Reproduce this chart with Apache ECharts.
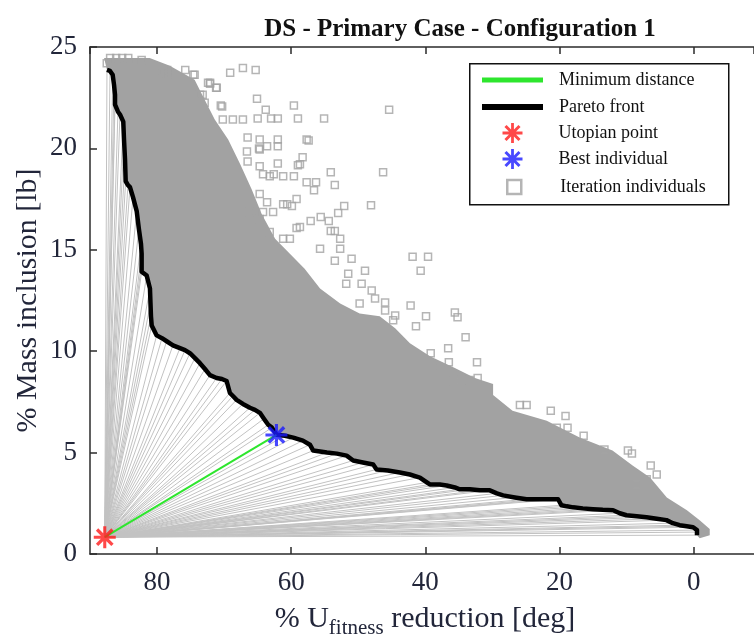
<!DOCTYPE html>
<html>
<head>
<meta charset="utf-8">
<script src="https://cdn.jsdelivr.net/npm/echarts@6/dist/echarts.min.js"></script>
<style>html,body{margin:0;padding:0;background:#fff}#c{width:754px;height:644px}</style>
</head>
<body>
<div id="c"></div>
<script>
// ---- data ----
const xTicks = [80, 60, 40, 20, 0];
const yTicks = [0, 5, 10, 15, 20, 25];
const xRange = [-9, 90];
const utopian = [87.8, 0.83];
const best = [62.2, 5.87];
const paretoX = [87.47, 87.02, 86.62, 86.42, 86.27, 86.27, 85.83, 85.53, 85.04, 84.93, 84.78, 84.68, 84.34, 84.04, 83.59, 83.04, 82.71, 82.40, 82.30, 82.30, 82.30, 81.55, 81.06, 80.98, 80.91, 80.80, 80.06, 79.27, 78.57, 77.63, 76.59, 75.84, 75.10, 74.35, 73.61, 72.86, 72.12, 71.12, 70.33, 69.63, 69.14, 68.69, 68.14, 67.20, 66.16, 65.41, 64.67, 64.07, 63.43, 62.88, 62.18, 60.94, 59.70, 58.26, 57.21, 56.72, 54.68, 53.19, 51.74, 50.76, 49.31, 47.78, 47.27, 45.59, 43.80, 42.31, 40.82, 39.78, 39.33, 37.84, 36.84, 35.60, 34.86, 33.37, 31.88, 30.39, 29.34, 28.41, 26.66, 24.92, 22.94, 21.45, 20.21, 19.70, 18.91, 17.97, 16.53, 15.00, 13.55, 12.01, 11.01, 10.02, 8.48, 7.03, 5.50, 4.05, 3.11, 2.07, 1.03, 0.08, -0.50, -0.50, -0.50];
const paretoY = [23.87, 23.82, 23.63, 23.14, 22.65, 22.16, 21.81, 21.67, 21.32, 20.44, 19.46, 18.38, 18.19, 18.09, 17.60, 16.91, 16.03, 15.29, 14.80, 14.31, 13.92, 13.73, 13.09, 12.35, 11.72, 11.27, 10.78, 10.64, 10.49, 10.29, 10.15, 10.05, 9.90, 9.66, 9.41, 9.12, 8.82, 8.68, 8.63, 8.53, 7.94, 7.79, 7.60, 7.40, 7.21, 7.11, 6.96, 6.67, 6.37, 6.23, 5.88, 5.83, 5.74, 5.59, 5.39, 5.10, 5.00, 4.95, 4.85, 4.61, 4.51, 4.41, 4.17, 4.12, 4.02, 3.92, 3.77, 3.53, 3.43, 3.43, 3.38, 3.28, 3.19, 3.19, 3.14, 3.14, 2.99, 2.89, 2.79, 2.70, 2.70, 2.70, 2.70, 2.40, 2.35, 2.30, 2.25, 2.21, 2.18, 2.16, 2.01, 1.91, 1.86, 1.81, 1.74, 1.67, 1.52, 1.42, 1.37, 1.32, 1.18, 1.08, 0.93];
// upper edge of the solid mass of iteration individuals
const cloudTopX = [87.9, 81.1, 78.1, 74.4, 72.9, 71.4, 69.4, 67.6, 65.9, 64.4, 62.4, 60.2, 58.0, 55.7, 52.7, 49.8, 46.8, 44.5, 42.3, 39.3, 35.6, 32.6, 29.9, 29.9, 27.0, 21.9, 17.0, 12.1, 9.1, 6.5, 4.0, 1.0, -0.9, -2.4, -2.4, -0.9];
const cloudTopY = [24.46, 24.46, 24.07, 23.38, 22.4, 21.42, 20.44, 19.22, 17.99, 16.76, 15.54, 14.8, 14.07, 13.09, 12.35, 11.86, 11.72, 11.13, 10.39, 9.75, 9.17, 8.68, 8.38, 7.84, 7.06, 6.57, 5.74, 5.1, 4.36, 3.77, 2.79, 2.16, 1.67, 1.23, 0.93, 0.78];
// individual squares outside the solid mass
const sqX = [69.1, 67.2, 65.3, 72.1, 71.2, 73.2, 72.9, 70.5, 65.1, 63.8, 59.6, 45.4, 65.0, 63.0, 62.0, 59.0, 55.1, 67.2, 70.2, 68.7, 66.5, 64.7, 63.6, 64.8, 62.0, 62.0, 57.4, 58.3, 59.0, 62.0, 66.5, 54.1, 46.3, 59.6, 61.2, 64.2, 62.6, 53.5, 56.3, 56.6, 52.1, 48.1, 53.0, 54.4, 55.6, 57.1, 54.1, 53.5, 59.2, 60.2, 61.2, 59.9, 63.6, 64.7, 62.7, 64.7, 66.2,
  41.9, 39.6, 40.7, 46.0, 46.0, 42.2, 39.9, 35.6, 35.2, 41.4, 34.0, 36.6, 36.5, 39.2, 32.3, 38.0, 32.2, 33.4, 34.6, 35.8, 44.5, 44.8, 25.9, 24.9, 21.3, 19.1, 20.4, 18.8, 16.4, 9.8, 9.2, 13.3, 6.4, 5.5, 7.0, 8.5,
  87.5, 82.3, 78.5, 75.8, 74.6, 72.4, 87.0, 86.1, 85.2, 84.3,
  52.7, 51.0, 49.0, 51.8, 48.0, 49.8,
  79.1, 78.5, 74.4, 72.1, 71.1, 73.6, 70.3, 57.7, 64.7, 66.6, 64.7, 58.7, 63.2, 57.7, 60.6, 59.2, 64.2, 58.7, 63.2, 61.2,
  55.7, 53.5, 51.5, 49.5, 47.5, 52.7];
const sqY = [23.73, 23.97, 23.87, 23.19, 22.99, 22.65, 22.25, 22.11, 22.45, 21.91, 22.11, 21.91, 21.47, 21.47, 21.47, 21.47, 21.47, 21.42, 21.42, 21.42, 20.54, 20.44, 20.1, 20.0, 20.44, 20.1, 20.39, 19.56, 19.17, 19.26, 19.36, 18.82, 18.82, 18.63, 18.63, 18.73, 18.73, 18.19, 18.33, 17.94, 17.16, 17.2, 16.81, 16.42, 16.62, 16.42, 15.93, 15.93, 16.08, 15.54, 17.25, 17.16, 17.35, 17.75, 16.86, 16.52, 16.86,
  14.66, 14.66, 13.97, 12.4, 12.01, 12.25, 11.72, 11.91, 11.67, 11.23, 10.69, 10.15, 9.46, 9.9, 9.46, 9.22, 8.68, 8.58, 8.58, 8.53, 11.76, 11.52, 7.35, 7.35, 7.06, 6.81, 6.23, 6.23, 5.83, 5.1, 4.95, 5.15, 4.36, 3.92, 3.68, 3.43,
  24.2, 24.36, 23.87, 23.87, 23.63, 23.24, 24.46, 24.46, 24.46, 24.46,
  15.05, 14.56, 13.97, 13.33, 12.99, 12.35,
  23.77, 23.63, 23.63, 23.24, 22.99, 22.65, 22.06, 20.44, 19.95, 19.85, 19.12, 19.22, 18.63, 18.33, 17.25, 17.5, 16.86, 16.13, 15.88, 15.54,
  15.05, 14.46, 13.82, 13.33, 12.6, 15.54];

// ---- chart ----
const FONT = "'Liberation Serif','DejaVu Serif',serif";
const AX = '#2b2b2b';
const LBL = '#22263a';
const GRAY = '#a2a2a2';
const STAR = 'path://M-10,-1.4L10,-1.4L10,1.4L-10,1.4Z M-1.4,-10L1.4,-10L1.4,10L-1.4,10Z M-5.94,-8.06L8.06,5.94L5.94,8.06L-8.06,-5.94Z M-8.06,5.94L5.94,-8.06L8.06,-5.94L-5.94,8.06Z';

const pareto = paretoX.map((x, i) => [x, paretoY[i]]);
const cloudPoly = cloudTopX.map((x, i) => [x, cloudTopY[i]]).concat(pareto.slice().reverse());
const squares = sqX.map((x, i) => [x, sqY[i]]);
const fan = pareto.map(p => ({ coords: [utopian, p] }));

const chart = echarts.init(document.getElementById('c'), null, { renderer: 'canvas' });
const xCommon = { type: 'value', inverse: true, min: xRange[0], max: xRange[1], splitNumber: 5, minInterval: 20, maxInterval: 20,
  splitLine: { show: false },
  axisLine: { show: true, onZero: false, lineStyle: { color: AX, width: 1.5 } },
  axisTick: { show: true, inside: true, length: 7, lineStyle: { color: AX, width: 1.5 } } };

function legendItem(name, top, left, w, h, icon, style, pad) {
  return { show: true, left: left, top: top, padding: 0, itemWidth: w, itemHeight: h, selectedMode: false,
    data: [{ name: name, icon: icon, itemStyle: style }],
    textStyle: { fontFamily: FONT, fontSize: 18, color: '#111', lineHeight: 20, padding: [0, 0, 0, pad] } };
}

chart.setOption({
  animation: false,
  title: { text: 'DS - Primary Case - Configuration 1', left: 455, top: 12, textAlign: 'center',
    textStyle: { fontFamily: FONT, fontSize: 25, fontWeight: 'bold', color: '#111' } },
  grid: { left: 90, top: 47, right: 0, height: 510, containLabel: false },
  legend: [
    legendItem('Minimum distance', 70, 482, 61, 5, 'rect', { color: '#2ee62e' }, 11),
    legendItem('Pareto front', 97, 482, 61, 6, 'rect', { color: '#000' }, 11),
    legendItem('Utopian point', 123, 502.5, 20, 20, STAR, { color: '#ff1a1a' }, 31),
    legendItem('Best individual', 149, 502.5, 20, 20, STAR, { color: '#1a1aff' }, 31),
    legendItem('Iteration individuals', 177, 506, 14, 14, 'rect', { color: 'rgba(0,0,0,0)', borderColor: GRAY, borderWidth: 2.5 }, 34)
  ],
  graphic: [{ type: 'rect', left: 469, top: 63, shape: { width: 259, height: 141 },
    style: { fill: 'rgba(0,0,0,0)', stroke: '#111', lineWidth: 1.5 }, z: 100 }],
  xAxis: [
    Object.assign({}, xCommon, { position: 'bottom',
      axisLabel: { showMaxLabel: false, showMinLabel: false, fontFamily: FONT, fontSize: 27, color: LBL, margin: 15 },
      name: '{a|% U}{b|fitness}{a| reduction [deg]}', nameLocation: 'middle', nameGap: 45, nameMoveOverlap: false,
      nameTextStyle: { padding: [0, 0, 0, 6], rich: {
        a: { fontFamily: FONT, fontSize: 30, color: LBL, lineHeight: 40 },
        b: { fontFamily: FONT, fontSize: 21, color: LBL, lineHeight: 18, verticalAlign: 'bottom' } } } }),
    Object.assign({}, xCommon, { position: 'top', axisLabel: { show: false } })
  ],
  yAxis: [{ type: 'value', min: 0, max: 25, interval: 5, splitLine: { show: false },
    axisLine: { show: true, onZero: false, lineStyle: { color: AX, width: 1.5 } },
    axisTick: { show: true, inside: true, length: 7, lineStyle: { color: AX, width: 1.5 } },
    axisLabel: { fontFamily: FONT, fontSize: 27, color: LBL, margin: 13 },
    name: '% Mass inclusion [lb]', nameLocation: 'middle', nameGap: 47, nameRotate: 90, nameMoveOverlap: false,
    nameTextStyle: { fontFamily: FONT, fontSize: 30, color: LBL } }],
  series: [
    { type: 'lines', name: 'fan', coordinateSystem: 'cartesian2d', silent: true, z: 1, data: fan,
      lineStyle: { color: '#c2c2c2', width: 1, opacity: 1 } },
    { type: 'custom', name: 'cloud', silent: true, z: 2, data: [[0, 0]],
      renderItem: function (params, api) {
        return { type: 'polygon', shape: { points: cloudPoly.map(p => api.coord(p)) }, style: { fill: GRAY } };
      } },
    { type: 'scatter', name: 'Iteration individuals', data: squares, symbol: 'rect', symbolSize: 7, z: 3, silent: true,
      itemStyle: { color: 'rgba(0,0,0,0)', borderColor: GRAY, borderWidth: 1.5 } },
    { type: 'line', name: 'Pareto front', data: pareto, symbol: 'none', z: 5, color: '#000',
      lineStyle: { color: '#000', width: 4.5, join: 'round' } },
    { type: 'line', name: 'Minimum distance', data: [utopian, best], symbol: 'none', z: 6, color: '#2ee62e',
      lineStyle: { color: '#2ee62e', width: 2 } },
    { type: 'scatter', name: 'Utopian point', data: [utopian], symbol: STAR, symbolSize: 22, z: 7,
      itemStyle: { color: '#ff1a1a' } },
    { type: 'scatter', name: 'Best individual', data: [best], symbol: STAR, symbolSize: 22, z: 7,
      itemStyle: { color: '#1a1aff' } }
  ]
});
</script>
</body>
</html>
